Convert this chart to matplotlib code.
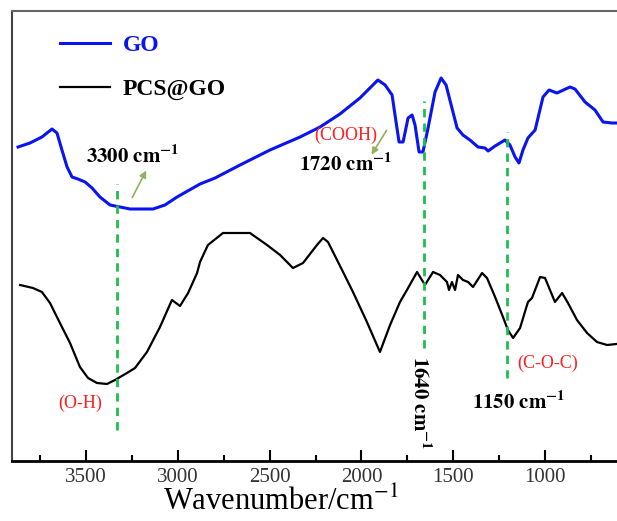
import matplotlib
matplotlib.use("Agg")
import matplotlib.pyplot as plt
import numpy as np

plt.rcParams['font.family'] = ['Liberation Serif', 'DejaVu Serif']
plt.rcParams['mathtext.fontset'] = 'stix'

# GO spectrum (wavenumber, transmittance a.u.)
go_wn = [3870, 3805, 3740, 3685, 3658, 3631, 3603, 3576, 3544, 3505, 3467, 3424,
         3369, 3315, 3260, 3135, 3070, 3004, 2879, 2797, 2661, 2498, 2334, 2225,
         2117, 2008, 1910, 1871, 1833, 1817, 1795, 1773, 1746, 1724, 1708, 1686,
         1665, 1637, 1599, 1566, 1539, 1507, 1479, 1447, 1409, 1365, 1327, 1310,
         1272, 1218, 1191, 1163, 1142, 1120, 1093, 1054, 1011, 978, 935, 864,
         837, 782, 728, 684, 635, 612]
go_t = [314, 318, 324, 332, 328, 311, 294, 284, 282, 279, 273, 264,
        256, 254, 252, 252, 256, 264, 277, 283, 296, 311, 324, 334,
        347, 363, 381, 376, 366, 346, 319, 319, 343, 346, 336, 309,
        309, 333, 369, 383, 376, 353, 333, 326, 321, 314, 313, 310,
        315, 321, 316, 304, 298, 311, 323, 331, 364, 371, 368, 374,
        372, 359, 351, 339, 338, 338]

# PCS@GO spectrum
pcs_wn = [3859, 3789, 3740, 3696, 3642, 3587, 3533, 3489, 3440, 3386, 3342, 3277,
          3233, 3168, 3097, 3032, 2988, 2944, 2895, 2879, 2836, 2754, 2607, 2514,
          2443, 2373, 2318, 2242, 2209, 2182, 2100, 2046, 1970, 1899, 1844, 1790,
          1752, 1697, 1654, 1610, 1572, 1534, 1523, 1507, 1490, 1474, 1447, 1419,
          1392, 1343, 1316, 1272, 1229, 1202, 1174, 1136, 1093, 1071, 1027, 1000,
          946, 907, 875, 826, 771, 717, 662, 612]
pcs_t = [176, 173, 169, 158, 138, 118, 94, 83, 78, 77, 81, 88,
         93, 109, 134, 161, 155, 168, 188, 199, 216, 228, 228, 216,
         206, 193, 198, 216, 223, 219, 189, 169, 139, 109, 136, 159,
         171, 189, 176, 189, 186, 179, 171, 179, 171, 186, 181, 179,
         174, 188, 183, 164, 144, 131, 123, 133, 159, 163, 184, 183,
         159, 168, 158, 141, 128, 119, 116, 117]

# marked bands: position, top, bottom
band_wn = [3331, 1659, 1207]
band_top = [277, 360, 329]
band_bot = [31, 113, 83]

fig = plt.figure(figsize=(6.17, 5.21), dpi=100)
ax = fig.add_axes([12 / 617, 60 / 521, 605 / 617, 450 / 521])

ax.plot(go_wn, go_t, color='#0a14f0', lw=2.2, label='GO')
ax.plot(pcs_wn, pcs_t, color='black', lw=1.6, label='PCS@GO')

for w, t, b in zip(band_wn, band_top, band_bot):
    ax.plot([w, w], [b, t], color='#1fbf4f', lw=2, ls=(0, (3, 2.2)))

ax.set_xlim(3903, 608)
ax.set_ylim(0, 450)
ax.set_yticks([])
ax.set_xticks([3500, 3000, 2500, 2000, 1500, 1000])
ax.set_xticks(np.arange(3750, 600, -250), minor=True)
ax.tick_params(axis='x', which='major', direction='in', length=8, width=1.5,
               labelsize=15, pad=5, labelcolor='#333333')
ax.tick_params(axis='x', which='minor', direction='in', length=4, width=1.5)
ax.spines['right'].set_visible(False)
ax.spines['top'].set_color('#666666')
ax.spines['top'].set_linewidth(1.5)
ax.spines['left'].set_color('#444444')
ax.spines['left'].set_linewidth(1.5)
ax.spines['bottom'].set_linewidth(2)
ax.set_xlabel('Wavenumber/cm$^{-1}$', fontsize=22)
ax.xaxis.set_label_coords(0.445, -0.057)

leg = ax.legend(loc='upper left', bbox_to_anchor=(0.045, 0.995), frameon=False,
                prop={'weight': 'bold', 'size': 17}, handlelength=2.1,
                handletextpad=0.55, labelspacing=0.95)
leg.get_texts()[0].set_color('#0a14f0')

red = dict(fontsize=13, color='#ff2020')
arrow = dict(arrowstyle='-|>', color='#8fb35a', lw=1.2, mutation_scale=10)

ax.text(3500, 304, r'$\mathbf{3300\ cm^{-1}}$', fontsize=15, va='center', ha='left')
ax.annotate('', xy=(3165, 293), xytext=(3255, 261), arrowprops=arrow)

ax.text(1915, 326, '(COOH)', ha='right', va='center', **red)
ax.annotate('', xy=(1953, 304), xytext=(1855, 333), arrowprops=arrow)
ax.text(2084, 296, r'$\mathbf{1720\ cm^{-1}}$', fontsize=15, va='center', ha='center')

ax.text(1685, 58, r'$\mathbf{1640\ cm^{-1}}$', fontsize=15, rotation=-90,
        ha='center', va='center')

ax.text(3533, 58, '(O-H)', ha='center', va='center', **red)
ax.text(988, 98, '(C-O-C)', ha='center', va='center', **red)
ax.text(1142, 58, r'$\mathbf{1150\ cm^{-1}}$', fontsize=15, ha='center', va='center')

fig.savefig('out.png', dpi=100)
